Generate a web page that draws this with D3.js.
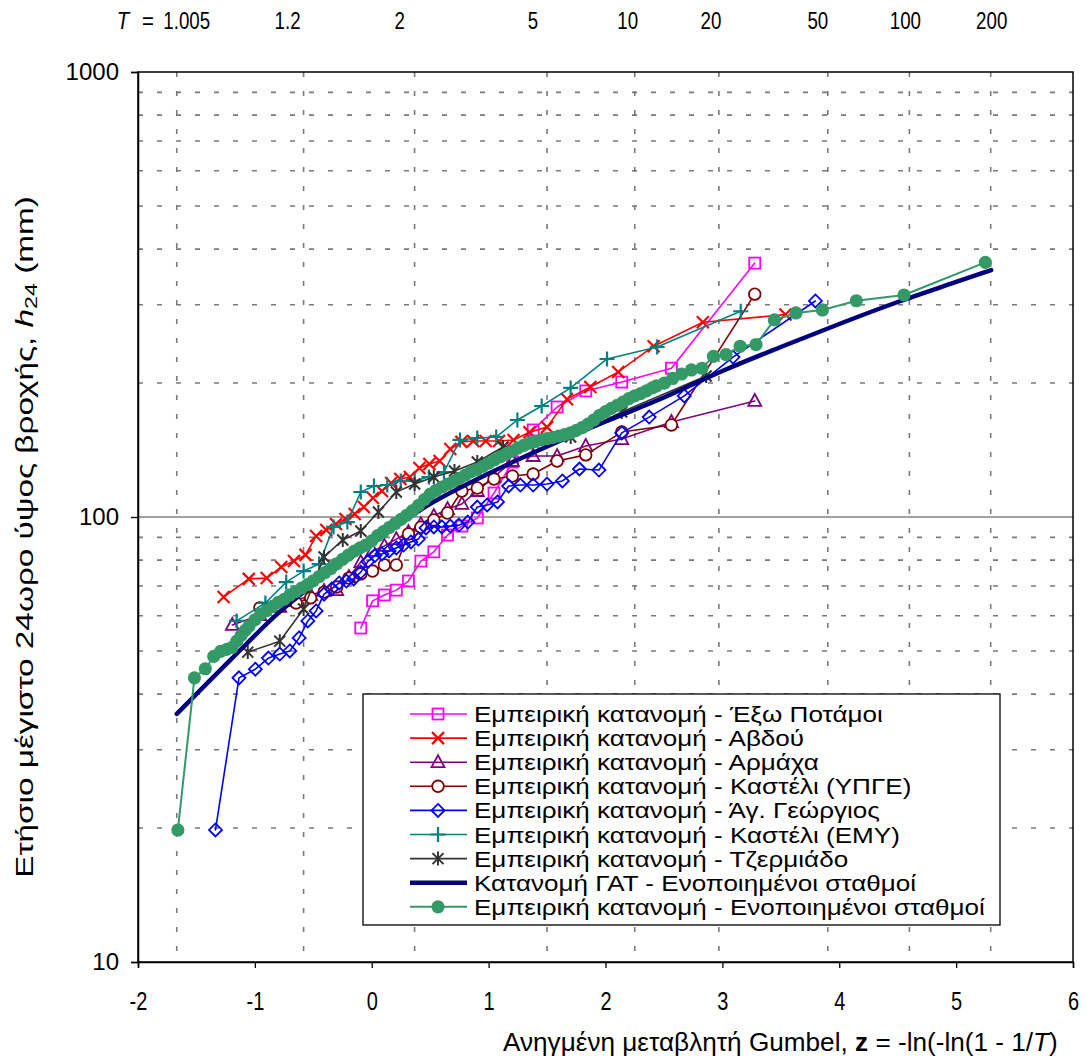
<!DOCTYPE html>
<html><head><meta charset="utf-8">
<script src="https://cdn.jsdelivr.net/npm/d3@7"></script>
<style>
body{margin:0;background:#fff;}
svg{display:block;}
text{font-family:"Liberation Sans",Arial,sans-serif;fill:#000;}
</style></head><body>
<svg id="chart" width="1087" height="1059"></svg>
<script>
// ---------------- DATA ----------------
const seriesNames = [
  "Εμπειρική κατανομή - Έξω Ποτάμοι",
  "Εμπειρική κατανομή - Αβδού",
  "Εμπειρική κατανομή - Αρμάχα",
  "Εμπειρική κατανομή - Καστέλι (ΥΠΓΕ)",
  "Εμπειρική κατανομή - Άγ. Γεώργιος",
  "Εμπειρική κατανομή - Καστέλι (ΕΜΥ)",
  "Εμπειρική κατανομή - Τζερμιάδο",
  "Κατανομή ΓΑΤ - Ενοποιημένοι σταθμοί",
  "Εμπειρική κατανομή - Ενοποιημένοι σταθμοί"
];
const returnPeriods = [1.005, 1.2, 2, 5, 10, 20, 50, 100, 200];
const returnPeriodLabels = ["1.005", "1.2", "2", "5", "10", "20", "50", "100", "200"];
const xTicks = [-2, -1, 0, 1, 2, 3, 4, 5, 6];
const yTicks = [10, 100, 1000];

// Έξω Ποτάμοι
const exoZ = [-0.094,0.007,0.108,0.210,0.314,0.420,0.531,0.648,0.771,0.903,1.046,1.204,1.381,1.586,1.831,2.139,2.564,3.277];
const exoV = [56.3,64.8,66.8,68.5,71.8,79.6,83.5,91.1,95.4,99.5,113.2,132.9,156.9,176.7,192,201,216,372];
// Αβδού
const avdZ = [-1.268,-1.052,-0.899,-0.774,-0.666,-0.567,-0.476,-0.389,-0.306,-0.225,-0.146,-0.068,0.010,0.087,0.166,0.245,0.326,0.408,0.493,0.581,0.672,0.767,0.868,0.975,1.089,1.213,1.349,1.500,1.671,1.870,2.109,2.412,2.833,3.540];
const avdV = [66.1,72.6,72.9,77.2,79.6,82.2,90.6,93.5,96.4,99,101.6,105.3,110.3,114.4,119.2,121.7,123,128.8,131.5,133.6,142.2,147.5,148.2,148.2,148.2,149,155,159.2,184,195.9,211.8,242,274,285];
// Αρμάχα
const armZ = [-1.193,-0.957,-0.787,-0.647,-0.523,-0.408,-0.300,-0.196,-0.094,0.007,0.108,0.210,0.314,0.420,0.531,0.648,0.771,0.903,1.046,1.204,1.381,1.586,1.831,2.139,2.564,3.277];
const armV = [57.2,60.2,62.8,64.8,66.8,68.2,68.5,73.3,79.2,83.9,86.1,89.2,92.5,96.4,100.5,104.2,107,114.4,123,133.6,137.1,137.1,144.4,149.7,163.5,182.3];
// Καστέλι (ΥΠΓΕ)
const kypZ = [-0.957,-0.787,-0.647,-0.523,-0.408,-0.300,-0.196,-0.094,0.007,0.108,0.210,0.314,0.420,0.531,0.648,0.771,0.903,1.046,1.204,1.381,1.586,1.831,2.139,2.564,3.277];
const kypV = [62.5,63.1,64.1,65.8,67.8,69.6,72.9,74.5,75.6,78,78,91.6,94.9,98.5,102.1,114.4,116.2,121.7,123.6,124.9,133.6,137.9,155.2,161,316.8];
// Άγ. Γεώργιος
const ageZ = [-1.337,-1.136,-0.996,-0.884,-0.787,-0.701,-0.621,-0.547,-0.476,-0.408,-0.343,-0.279,-0.217,-0.155,-0.094,-0.034,0.027,0.087,0.148,0.210,0.272,0.335,0.399,0.464,0.531,0.600,0.672,0.746,0.822,0.903,0.987,1.076,1.171,1.272,1.381,1.500,1.631,1.777,1.944,2.139,2.374,2.674,3.091,3.796];
const ageV = [19.8,43.5,45.5,48.2,49.2,50,53.5,58.4,61.5,67.1,68.9,71.1,71.8,72.6,75.2,79.4,81.9,82.6,83.9,85.2,86.5,87.9,89.2,94.5,95,95,95.4,95.9,97.4,105.3,106.4,108.1,117.4,118,118,118.6,120.5,128.2,127.5,154.5,167.7,187.1,228.8,305.8];
// Καστέλι (ΕΜΥ)
const kemZ = [-1.156,-0.910,-0.732,-0.583,-0.450,-0.327,-0.209,-0.094,0.019,0.133,0.248,0.367,0.489,0.618,0.755,0.903,1.065,1.246,1.454,1.702,2.013,2.442,3.157];
const kemV = [58.4,64.1,71.4,75.6,78.4,95,97.4,113.8,117.4,118,120.5,120.5,123.0,126.2,149,150.5,151.3,165.2,177.6,195,226.5,241,290];
// Τζερμιάδο
const tzeZ = [-1.061,-0.787,-0.583,-0.408,-0.248,-0.094,0.057,0.210,0.367,0.531,0.708,0.903,1.123,1.381,1.702,2.139,2.861];
const tzeV = [49.7,52.6,62.1,81.3,88.8,93,102.6,113.8,118.6,123,126.9,132.9,143.6,147.5,151.3,172.2,207.4];
// Κατανομή ΓΑΤ (curve)
const gevZ = [-1.668,-1.2,-0.8,-0.4,0,0.5,1.0,1.5,2.0,2.5,3.0,3.5,4.0,4.5,5.0,5.3];
const gevV = [36.1,48.0,60.8,73.7,87.4,107,125.2,144,163.9,185.6,212.9,241,271.5,304.2,337.4,358.9];
// Ενοποιημένοι σταθμοί (empirical)
const uniZ = [-1.659,-1.517,-1.424,-1.352,-1.293,-1.241,-1.196,-1.155,-1.117,-1.082,
  -1.05,-1.00,-0.95,-0.90,-0.85,-0.80,-0.75,-0.70,-0.65,-0.60,-0.55,-0.50,-0.45,-0.40,-0.35,-0.30,-0.25,-0.20,-0.15,-0.10,-0.05,
  0.00,0.05,0.10,0.15,0.20,0.25,0.30,0.35,0.40,0.45,0.50,0.55,0.60,0.65,0.70,0.75,0.80,0.85,0.90,0.95,
  1.00,1.05,1.10,1.15,1.20,1.25,1.30,1.35,1.40,1.45,1.50,1.55,1.60,1.65,1.70,1.75,1.80,1.85,1.90,1.95,
  2.00,2.05,2.10,2.15,2.20,2.25,2.30,2.35,2.40,
  2.436,2.504,2.574,2.651,2.735,2.825,2.923,3.031,3.152,3.288,3.445,3.629,3.856,4.146,4.554,5.250];
const uniV = [19.8,43.5,45.6,48.6,49.9,50.4,50.9,52.6,54.2,55.6,
  56.9,58.7,60.4,61.6,63.0,64.3,65.3,66.8,68.0,69.2,70.5,71.9,73.5,75.0,76.6,78.5,80.3,82.1,83.8,85.2,86.5,
  88.4,90.8,92.7,94.7,96.7,98.8,100.9,103.4,106.2,109.4,112.6,114.8,116.8,118.5,120.3,122.2,124.2,126.5,127.8,130.0,
  132.2,134.4,136.5,138.6,140.7,142.9,144.8,146.5,147.9,149.2,150.0,151.0,151.9,153.2,154.6,156.5,158.8,161.7,165.2,169.3,
  172.5,175.5,178.1,181.2,184.5,187.1,189.3,192.1,195.0,
  197,200,204.8,209.6,214,215.9,229.6,231.8,241.9,244.1,277.2,287.4,291.9,306.2,315.4,373.5];

// ---------------- CHART ----------------
const svg = d3.select("#chart");
const x = d3.scaleLinear().domain([-2, 6]).range([138, 1073]);
const y = d3.scaleLog().domain([10, 1000]).range([962, 72]);
const gumbel = T => -Math.log(-Math.log(1 - 1 / T));

const styles = [
  {color:"#FF00FF", marker:"square", width:1.6},
  {color:"#FF0000", marker:"x", width:1.6},
  {color:"#800080", marker:"triangle", width:1.6},
  {color:"#800000", marker:"circle", width:1.6},
  {color:"#0000FF", marker:"diamond", width:1.6},
  {color:"#008080", marker:"plus", width:1.6},
  {color:"#333333", marker:"star", width:1.6},
  {color:"#000080", marker:null, width:4.5},
  {color:"#339966", marker:"dot", width:2}
];
const zs = [exoZ, avdZ, armZ, kypZ, ageZ, kemZ, tzeZ, gevZ, uniZ];
const vs = [exoV, avdV, armV, kypV, ageV, kemV, tzeV, gevV, uniV];
const series = seriesNames.map((name, i) => ({
  name, ...styles[i],
  points: zs[i].map((z, j) => ({z, v: vs[i][j]}))
}));

// gridlines
const grid = svg.append("g");
const minorVals = [];
[10, 100].forEach(d => { for (let k = 2; k <= 9; k++) minorVals.push(d * k); });
grid.selectAll("line.h").data(minorVals).enter().append("line")
  .attr("x1", x(-2)).attr("x2", x(6))
  .attr("y1", d => y(d)).attr("y2", d => y(d))
  .attr("stroke", "#7a7a7a").attr("stroke-width", 1.6).attr("stroke-dasharray", "5,14");
grid.selectAll("line.v").data(returnPeriods).enter().append("line")
  .attr("x1", d => x(gumbel(d))).attr("x2", d => x(gumbel(d)))
  .attr("y1", y(1000)).attr("y2", y(10))
  .attr("stroke", "#7a7a7a").attr("stroke-width", 1.6).attr("stroke-dasharray", "5,14");
grid.append("line").attr("x1", x(-2)).attr("x2", x(6)).attr("y1", y(100)).attr("y2", y(100))
  .attr("stroke", "#444").attr("stroke-width", 1.2);

// plot border
svg.append("rect").attr("x", x(-2)).attr("y", y(1000)).attr("width", x(6) - x(-2)).attr("height", y(10) - y(1000))
  .attr("fill", "none").attr("stroke", "#000").attr("stroke-width", 1.5);

// axes
const yAxis = svg.append("g").attr("transform", `translate(${x(-2)},0)`)
  .call(d3.axisLeft(y).tickValues(yTicks).tickFormat(d => String(d)).tickSize(7).tickPadding(12));
yAxis.selectAll("text").attr("font-size", 24).style("font-family", '"Liberation Sans",Arial,sans-serif');
const xAxis = svg.append("g").attr("transform", `translate(0,${y(10)})`)
  .call(d3.axisBottom(x).tickValues(xTicks).tickFormat(d => String(d)).tickSize(6).tickPadding(24));
xAxis.selectAll("text").attr("font-size", 25).style("font-family", '"Liberation Sans",Arial,sans-serif')
  .attr("transform", "scale(0.8,1)");
[yAxis, xAxis].forEach(a => { a.select(".domain").attr("stroke", "#000").attr("stroke-width", 1.5); a.selectAll(".tick line").attr("stroke", "#000").attr("stroke-width", 1.3); });

// marker factory
function drawMarker(g, type, color) {
  const sw = 1.8;
  switch (type) {
    case "square": g.append("rect").attr("x", -5.5).attr("y", -5.5).attr("width", 11).attr("height", 11).attr("fill", "none").attr("stroke", color).attr("stroke-width", sw); break;
    case "x": g.append("path").attr("d", "M-6,-6L6,6M-6,6L6,-6").attr("stroke", color).attr("stroke-width", 2.2).attr("fill", "none"); break;
    case "triangle": g.append("path").attr("d", "M0,-7L6.5,5L-6.5,5Z").attr("fill", "none").attr("stroke", color).attr("stroke-width", sw); break;
    case "circle": g.append("circle").attr("r", 5.8).attr("fill", "#fff").attr("stroke", color).attr("stroke-width", sw); break;
    case "diamond": g.append("path").attr("d", "M0,-6.5L6.5,0L0,6.5L-6.5,0Z").attr("fill", "none").attr("stroke", color).attr("stroke-width", sw); break;
    case "plus": g.append("path").attr("d", "M-7.5,0H7.5M0,-7.5V7.5").attr("stroke", color).attr("stroke-width", 2.2); break;
    case "star": g.append("path").attr("d", "M-5.5,-5.5L5.5,5.5M-5.5,5.5L5.5,-5.5M0,-7V7").attr("stroke", color).attr("stroke-width", 2); break;
    case "dot": g.append("circle").attr("r", 6.6).attr("fill", color).attr("stroke", "none"); break;
  }
}

// series
const plotG = svg.append("g");
series.forEach(s => {
  const line = d3.line().x(d => x(d.z)).y(d => y(d.v)).curve(s.marker ? d3.curveLinear : d3.curveMonotoneX);
  const g = plotG.append("g");
  g.append("path").datum(s.points).attr("d", line).attr("fill", "none")
    .attr("stroke", s.color).attr("stroke-width", s.width).attr("stroke-linejoin", "round").attr("stroke-linecap", "round");
  if (s.marker) {
    g.selectAll("g.m").data(s.points).enter().append("g")
      .attr("transform", d => `translate(${x(d.z)},${y(d.v)})`)
      .each(function () { drawMarker(d3.select(this), s.marker, s.color); });
  }
});

// helper: squeeze/stretch a text horizontally to a target width
function fitWidth(textSel, x0, y0, target, rotate) {
  const w = textSel.node().getComputedTextLength();
  const k = target / w;
  textSel.attr("transform", rotate ? `translate(${x0},${y0}) rotate(-90) scale(${k},1)` : `translate(${x0},${y0}) scale(${k},1)`);
}

// top return-period labels
const tDx = [10, -16, -15, -14, -7, -8, -10, -4, 1];
const topG = svg.append("g");
topG.selectAll("text.t").data(returnPeriodLabels).enter().append("text")
  .attr("transform", (d, i) => `translate(${x(gumbel(returnPeriods[i])) + tDx[i]},29) scale(0.78,1)`)
  .attr("text-anchor", "middle").attr("font-size", 24).text(d => d);
topG.append("text").attr("transform", "translate(123,29) scale(0.85,1)").attr("text-anchor", "middle")
  .attr("font-size", 24).attr("font-style", "italic").text("T");
topG.append("text").attr("transform", "translate(148,29) scale(0.85,1)").attr("text-anchor", "middle")
  .attr("font-size", 24).text("=");

// axis titles
const xt = svg.append("text").attr("text-anchor", "start").attr("font-size", 25);
xt.append("tspan").text("Ανηγμένη μεταβλητή Gumbel, ");
xt.append("tspan").attr("font-weight", "bold").text("z");
xt.append("tspan").text(" = -ln(-ln(1 - 1/");
xt.append("tspan").attr("font-style", "italic").text("T");
xt.append("tspan").text(")");
fitWidth(xt, 503, 1051, 555, false);

const yt = svg.append("text").attr("text-anchor", "middle").attr("font-size", 23);
yt.append("tspan").text("Ετήσιο μέγιστο 24ωρο ύψος βροχής, ");
yt.append("tspan").attr("font-style", "italic").text("h");
yt.append("tspan").attr("font-size", 16).attr("dy", 4).text("24");
yt.append("tspan").attr("dy", -4).text(" (mm)");
fitWidth(yt, 33, 537, 682, true);

// legend
const lg = svg.append("g");
lg.append("rect").attr("x", 363).attr("y", 694).attr("width", 637).attr("height", 231)
  .attr("fill", "#fff").attr("stroke", "#000").attr("stroke-width", 1.3);
const rows = lg.selectAll("g.row").data(series).enter().append("g")
  .attr("transform", (d, i) => `translate(0,${714 + i * 24.1})`);
rows.append("line").attr("x1", 410).attr("x2", 467).attr("y1", 0).attr("y2", 0)
  .attr("stroke", d => d.color).attr("stroke-width", d => d.width);
rows.each(function (d) { if (d.marker) { const g = d3.select(this).append("g").attr("transform", "translate(438,0)"); drawMarker(g, d.marker, d.color); } });
const legendTexts = rows.append("text").attr("font-size", 21.5).text(d => d.name);
const lastW = legendTexts.nodes()[series.length - 1].getComputedTextLength();
const lk = 511 / lastW;
legendTexts.attr("transform", `translate(474,8) scale(${lk},1)`);
</script>
</body></html>
